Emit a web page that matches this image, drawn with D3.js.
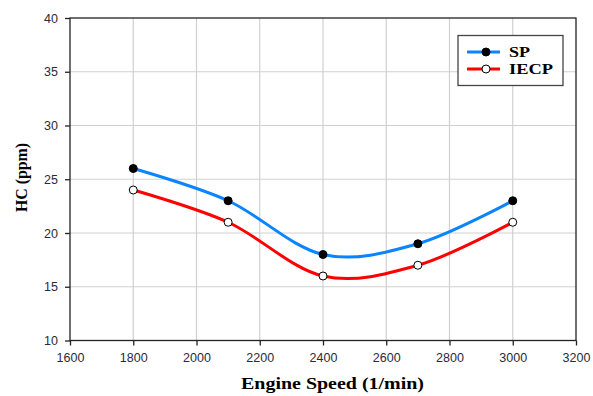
<!DOCTYPE html>
<html>
<head>
<meta charset="utf-8">
<script src="https://cdn.jsdelivr.net/npm/d3@7"></script>
<style>
  body { margin: 0; background: #fff; }
  svg { display: block; }
</style>
</head>
<body>
<div id="chart"></div>
<script>
// data
var speeds = [1800, 2100, 2400, 2700, 3000];
var spValues = [26, 23, 18, 19, 23];
var iecpValues = [24, 21, 16, 17, 21];
var xTicks = [1600, 1800, 2000, 2200, 2400, 2600, 2800, 3000, 3200];
var yTicks = [10, 15, 20, 25, 30, 35, 40];

var width = 593, height = 396;
var plotL = 70, plotR = 576, plotT = 18, plotB = 340.5;
var serif = "Liberation Serif, Times New Roman, serif";

var svg = d3.select("#chart").append("svg")
    .attr("width", width)
    .attr("height", height);

var x = d3.scaleLinear().domain([1600, 3200]).range([plotL, plotR]);
var y = d3.scaleLinear().domain([10, 40]).range([plotB, plotT]);

// grid
svg.append("g").selectAll("line")
    .data(xTicks.slice(1, -1))
    .enter().append("line")
    .attr("x1", d => x(d)).attr("x2", d => x(d))
    .attr("y1", plotT).attr("y2", plotB)
    .attr("stroke", "#d0d0d0").attr("stroke-width", 1.2);
svg.append("g").selectAll("line")
    .data(yTicks.slice(1, -1))
    .enter().append("line")
    .attr("x1", plotL).attr("x2", plotR)
    .attr("y1", d => y(d)).attr("y2", d => y(d))
    .attr("stroke", "#d0d0d0").attr("stroke-width", 1.2);

// axes
var xAxis = svg.append("g")
    .attr("transform", "translate(0," + plotB + ")")
    .call(d3.axisBottom(x).tickValues(xTicks).tickSize(5).tickPadding(8).tickFormat(d3.format("d")));
var yAxis = svg.append("g")
    .attr("transform", "translate(" + plotL + ",0)")
    .call(d3.axisLeft(y).tickValues(yTicks).tickSize(5).tickPadding(7));
[xAxis, yAxis].forEach(function (a) {
    a.select(".domain").remove();
    a.selectAll("line").attr("stroke", "#222").attr("stroke-width", 1.3);
    a.selectAll("text")
        .attr("font-family", "Liberation Sans, Arial, sans-serif")
        .attr("font-size", 12.5)
        .attr("fill", "#2a2a3a");
});

// frame
svg.append("rect")
    .attr("x", plotL).attr("y", plotT)
    .attr("width", plotR - plotL).attr("height", plotB - plotT)
    .attr("fill", "none").attr("stroke", "#222").attr("stroke-width", 1.3);

// series
var line = d3.line()
    .x(d => x(d[0]))
    .y(d => y(d[1]))
    .curve(d3.curveCatmullRom.alpha(0));

var series = [
    { name: "SP", values: spValues, color: "#0a84ff", fill: "#000", len: 21 },
    { name: "IECP", values: iecpValues, color: "#ff0000", fill: "#fff", len: 44 }
];

series.forEach(function (s) {
    var pts = speeds.map((v, i) => [v, s.values[i]]);
    svg.append("path")
        .attr("d", line(pts))
        .attr("fill", "none")
        .attr("stroke", s.color)
        .attr("stroke-width", 3);
});
series.forEach(function (s) {
    var pts = speeds.map((v, i) => [v, s.values[i]]);
    svg.append("g").selectAll("circle")
        .data(pts)
        .enter().append("circle")
        .attr("cx", d => x(d[0]))
        .attr("cy", d => y(d[1]))
        .attr("r", 4)
        .attr("fill", s.fill)
        .attr("stroke", "#000")
        .attr("stroke-width", 1);
});

// legend
var lg = svg.append("g");
lg.append("rect")
    .attr("x", 458).attr("y", 35.5)
    .attr("width", 105).attr("height", 50)
    .attr("fill", "#fff").attr("stroke", "#444").attr("stroke-width", 1.3);
series.forEach(function (s, i) {
    var ly = 52 + i * 17;
    lg.append("line")
        .attr("x1", 467).attr("x2", 500)
        .attr("y1", ly).attr("y2", ly)
        .attr("stroke", s.color).attr("stroke-width", 3);
    lg.append("circle")
        .attr("cx", 486).attr("cy", ly).attr("r", 4)
        .attr("fill", s.fill).attr("stroke", "#000").attr("stroke-width", 1);
    lg.append("text")
        .attr("x", 509).attr("y", ly + 5)
        .attr("font-family", serif)
        .attr("font-weight", "bold")
        .attr("font-size", 15)
        .attr("textLength", s.len)
        .attr("lengthAdjust", "spacingAndGlyphs")
        .attr("fill", "#000")
        .text(s.name);
});

// axis titles
svg.append("text")
    .attr("x", 241).attr("y", 389)
    .attr("font-family", serif)
    .attr("font-weight", "bold")
    .attr("font-size", 16)
    .attr("textLength", 183)
    .attr("lengthAdjust", "spacingAndGlyphs")
    .text("Engine Speed (1/min)");
svg.append("text")
    .attr("transform", "translate(27,212) rotate(-90)")
    .attr("font-family", serif)
    .attr("font-weight", "bold")
    .attr("font-size", 16)
    .attr("textLength", 69)
    .attr("lengthAdjust", "spacingAndGlyphs")
    .text("HC (ppm)");
</script>
</body>
</html>
